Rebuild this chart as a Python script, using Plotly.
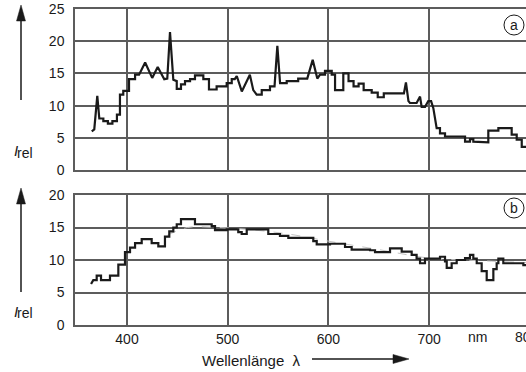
import plotly.graph_objects as go

# ---------------- data ----------------
wl_a = [365.0, 367.5, 370.5, 372.5, 376.5, 376.5, 381.0, 381.0, 385.5, 385.5, 390.0, 390.0, 393.0, 393.0,
        396.3, 396.3, 402.0, 402.0, 408.0, 408.0, 412.0, 418.0, 425.0, 430.5, 437.0, 440.0, 442.7, 446.0,
        449.4, 449.4, 453.6, 453.6, 457.6, 457.6, 462.6, 462.6, 467.5, 467.5, 475.8, 475.8, 481.4, 481.4,
        489.0, 489.0, 499.0, 499.0, 504.0, 504.0, 507.0, 509.0, 514.0, 522.0, 525.4, 528.8, 533.8, 533.8,
        542.0, 542.0, 546.5, 549.3, 552.0, 558.6, 558.6, 570.0, 570.0, 579.0, 584.4, 589.0, 591.7, 596.6,
        596.6, 603.3, 603.3, 606.6, 606.6, 614.8, 614.8, 620.0, 620.0, 625.0, 625.0, 630.0, 630.0, 635.0,
        635.0, 643.0, 643.0, 649.0, 649.0, 655.0, 655.0, 675.0, 677.0, 679.5, 681.0, 687.6, 691.0, 692.6,
        696.0, 699.2, 702.0, 704.2, 707.5, 710.8, 710.8, 715.8, 715.8, 735.7, 735.7, 740.6, 740.6, 743.9,
        743.9, 747.3, 747.3, 758.8, 758.8, 768.8, 768.8, 782.0, 782.0, 787.0, 787.0, 792.0, 792.0, 797.0]
int_a = [6.0, 6.3, 11.5, 8.0, 8.0, 7.6, 7.6, 7.2, 7.2, 7.6, 7.6, 8.6, 8.6, 11.7,
         11.7, 12.3, 12.3, 14.1, 14.1, 14.8, 14.8, 16.7, 14.3, 16.0, 14.1, 14.2, 21.4, 14.0,
         13.8, 12.6, 12.6, 13.3, 13.3, 13.8, 13.8, 14.1, 14.1, 14.7, 14.7, 14.1, 14.1, 12.5,
         12.5, 13.0, 13.0, 13.5, 13.5, 14.1, 14.1, 14.6, 12.2, 14.8, 12.4, 11.7, 11.7, 12.4,
         12.4, 13.0, 13.0, 19.3, 13.5, 13.5, 13.8, 13.8, 14.2, 14.2, 17.1, 14.2, 14.8, 14.8,
         15.4, 15.4, 14.8, 14.8, 12.4, 12.4, 15.0, 15.0, 13.8, 13.8, 13.0, 13.0, 13.4, 13.4,
         12.4, 12.4, 12.0, 12.0, 11.3, 11.3, 11.9, 11.9, 13.6, 10.7, 10.4, 10.4, 11.4, 9.8,
         9.8, 10.7, 10.7, 9.6, 6.5, 6.5, 5.7, 5.7, 5.2, 5.2, 4.4, 4.4, 4.8, 4.8,
         4.4, 4.4, 4.3, 4.3, 6.1, 6.1, 6.5, 6.5, 5.5, 5.5, 4.7, 4.7, 3.6, 3.6]

wl_b = [364.3, 366.5, 369.9, 369.9, 374.2, 374.2, 383.1, 383.1, 391.4, 391.4, 398.0, 398.0, 403.0, 403.0,
        408.0, 408.0, 414.6, 414.6, 424.5, 424.5, 431.1, 431.1, 437.7, 437.7, 442.0, 442.0, 446.0, 446.0,
        449.4, 449.4, 453.6, 453.6, 467.5, 467.5, 484.1, 484.1, 487.4, 487.4, 499.0, 499.0, 510.5, 510.5,
        513.9, 513.9, 518.9, 518.9, 540.3, 540.3, 551.9, 551.9, 560.2, 560.2, 585.0, 585.0, 588.4, 588.4,
        601.6, 601.6, 616.5, 616.5, 623.1, 623.1, 641.3, 641.3, 646.3, 646.3, 661.2, 661.2, 672.8, 672.8,
        682.7, 682.7, 687.6, 687.6, 691.0, 691.0, 695.9, 695.9, 710.8, 710.8, 715.8, 715.8, 717.5, 717.5,
        722.4, 722.4, 727.4, 727.4, 735.7, 735.7, 740.6, 740.6, 743.9, 743.9, 747.3, 747.3, 752.2, 752.2,
        757.2, 757.2, 763.8, 763.8, 767.1, 767.1, 768.8, 768.8, 773.7, 773.7, 793.6, 793.6, 797.0]
int_b = [6.3, 6.9, 6.9, 7.6, 7.6, 6.9, 6.9, 7.6, 7.6, 9.3, 9.3, 11.2, 11.2, 11.9,
         11.9, 12.6, 12.6, 13.2, 13.2, 12.6, 12.6, 12.1, 12.1, 13.6, 13.6, 14.4, 14.4, 15.0,
         15.0, 15.5, 15.5, 16.3, 16.3, 15.5, 15.5, 15.2, 15.2, 14.6, 14.6, 14.7, 14.7, 14.3,
         14.3, 14.0, 14.0, 14.7, 14.7, 14.0, 14.0, 13.7, 13.7, 13.4, 13.4, 12.9, 12.9, 12.4,
         12.4, 12.5, 12.5, 12.0, 12.0, 11.6, 11.6, 11.5, 11.5, 11.2, 11.2, 11.8, 11.8, 11.3,
         11.3, 10.8, 10.8, 10.2, 10.2, 9.5, 9.5, 10.2, 10.2, 10.5, 10.5, 9.8, 9.8, 8.8,
         8.8, 9.5, 9.5, 10.0, 10.0, 10.3, 10.3, 10.8, 10.8, 10.2, 10.2, 9.5, 9.5, 8.3,
         8.3, 6.9, 6.9, 8.6, 8.6, 9.5, 9.5, 10.2, 10.2, 9.5, 9.5, 9.2, 9.2]

# faint smoothed reference curve in panel b
wl_b_ref = [440, 460, 490, 520, 560, 600, 650, 700, 750, 797]
int_b_ref = [13.8, 15.0, 15.0, 14.7, 14.0, 12.9, 11.6, 10.3, 9.9, 9.6]

x_ticks = [400, 500, 600, 700]
ya_ticks = [0, 5, 10, 15, 20, 25]
yb_ticks = [0, 5, 10, 15, 20]

# ---------------- layout geometry ----------------
W, H = 526, 372
ML, MR, MT, MB = 75, 0, 9, 47
PW, PH = W - ML - MR, H - MT - MB


def px(x):
    return (x - ML) / PW


def py(y):
    return (H - MB - y) / PH


FONT = "Liberation Sans, Arial, sans-serif"
GRID = "#5c5c5c"
INK = "#1a1a1a"
FS = 14

fig = go.Figure()
fig.add_trace(go.Scatter(x=wl_a, y=int_a, mode="lines", line=dict(color=INK, width=2.2),
                         xaxis="x", yaxis="y", showlegend=False, hoverinfo="skip"))
fig.add_trace(go.Scatter(x=wl_b_ref, y=int_b_ref, mode="lines",
                         line=dict(color="#c4c4c4", width=1, dash="dash", shape="spline"),
                         xaxis="x2", yaxis="y2", showlegend=False, hoverinfo="skip"))
fig.add_trace(go.Scatter(x=wl_b, y=int_b, mode="lines", line=dict(color=INK, width=2.2),
                         xaxis="x2", yaxis="y2", showlegend=False, hoverinfo="skip"))

xr = [400 + (ML - 127) / 1.007, 400 + (W - MR - 127) / 1.007]

common_x = dict(range=xr, tickvals=x_ticks, showgrid=True, gridcolor=GRID, gridwidth=1.5,
                showline=True, linecolor=GRID, linewidth=1.5, mirror=True, zeroline=False,
                ticks="", ticklen=2, tickfont=dict(family=FONT, size=FS, color=INK))
common_y = dict(dtick=5, showgrid=True, gridcolor=GRID, gridwidth=1.5, showline=True,
                linecolor=GRID, linewidth=1.5, zeroline=False, ticks="", ticklen=0,
                ticklabelstandoff=6, tickfont=dict(family=FONT, size=FS, color=INK))

top_dom = [py(170), py(9)]
bot_dom = [py(325), py(195)]

fig.update_layout(
    width=W, height=H, margin=dict(l=ML, r=MR, t=MT, b=MB),
    paper_bgcolor="white", plot_bgcolor="white",
    xaxis=dict(common_x, anchor="y", showticklabels=False),
    yaxis=dict(common_y, domain=top_dom, range=[0, 25], tickvals=ya_ticks, anchor="x"),
    xaxis2=dict(common_x, anchor="y2"),
    yaxis2=dict(common_y, domain=bot_dom, range=[0, 20], tickvals=yb_ticks, anchor="x2"),
)

ann = []
shapes = []


def text(x, y, t, size=FS, xanchor="center"):
    ann.append(dict(x=px(x), y=py(y), xref="paper", yref="paper", text=t, showarrow=False,
                    xanchor=xanchor, yanchor="middle", borderpad=0,
                    font=dict(family=FONT, size=size, color=INK)))


# extra axis texts
text(477, 337, "nm")
text(527, 337, "800")
text(251, 360, "Wellenlänge  λ", size=15)
for yy in (151, 311):
    text(15.5, yy, "<i>I</i>", size=15)
    text(15.5, yy + 2, "rel", size=14, xanchor="left")
text(514, 25, "a", size=14)
text(514, 208, "b", size=14)

# circles around panel letters
for cy in (25, 208):
    shapes.append(dict(type="circle", xref="paper", yref="paper", x0=px(504), x1=px(524),
                       y0=py(cy + 10), y1=py(cy - 10), line=dict(color=INK, width=1)))


def line(x0, y0, x1, y1, w=1.5):
    shapes.append(dict(type="line", xref="paper", yref="paper", x0=px(x0), y0=py(y0),
                       x1=px(x1), y1=py(y1), line=dict(color=INK, width=w)))


def tri(pts):
    d = "M " + " L ".join(f"{px(a):.5f},{py(b):.5f}" for a, b in pts) + " Z"
    shapes.append(dict(type="path", xref="paper", yref="paper", path=d,
                       fillcolor=INK, line=dict(color=INK, width=0.5)))


# vertical arrows on the left
line(21, 100, 21, 18)
tri([(21, 5), (16.5, 21), (25.5, 21)])
line(21, 292, 21, 200)
tri([(21, 188), (16.5, 204), (25.5, 204)])

# horizontal arrow after λ
line(312, 359, 396, 359)
tri([(409, 359), (393, 354.5), (393, 363.5)])

fig.update_layout(annotations=ann, shapes=shapes)
fig.write_html("out.html", config={"displayModeBar": False},
               post_script="document.body.style.margin='0';document.body.style.overflow='hidden';")
